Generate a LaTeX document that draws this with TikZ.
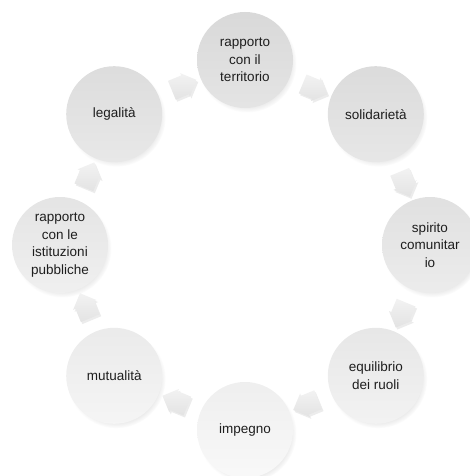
\documentclass[tikz,border=0pt]{standalone}
\usepackage{fontspec}
\setmainfont{Liberation Sans}
\usetikzlibrary{shapes.arrows,shadows,fadings,calc}
\definecolor{ringtext}{HTML}{1E1E1E}
\begin{document}
\begin{tikzpicture}[x=1pt,y=1pt,
  ring/.style={circle, minimum size=96pt, inner sep=0pt, align=center, text=ringtext,
    font=\fontsize{13.5}{17.5}\selectfont,
    circular drop shadow={shadow xshift=2pt, shadow yshift=-3pt, shadow scale=1.03, opacity=0.2}},
  flow/.style={single arrow, single arrow head extend=2.5pt, minimum height=27pt,
    text height=10pt, text depth=10pt, text width=0pt, inner sep=0pt,
    top color=gray!10, bottom color=gray!22,
    drop shadow={shadow xshift=1.5pt, shadow yshift=-2pt, opacity=0.15}}]
\useasboundingbox (-245,-231) rectangle (225,245);
% circles, clockwise from the top
\node[ring, top color=gray!30, bottom color=gray!21] (c0) at (0,185) {rapporto\\con il\\territorio};
\node[ring, top color=gray!28, bottom color=gray!19] (c1) at (130.8,130.8) {solidariet\`a};
\node[ring, top color=gray!24, bottom color=gray!15] (c2) at (185,0) {spirito\\comunitar\\io};
\node[ring, top color=gray!19, bottom color=gray!10] (c3) at (130.8,-130.8) {equilibrio\\dei ruoli};
\node[ring, top color=gray!13, bottom color=gray!5] (c4) at (0,-185) {impegno};
\node[ring, top color=gray!16, bottom color=gray!8] (c5) at (-130.8,-130.8) {mutualit\`a};
\node[ring, top color=gray!21, bottom color=gray!12] (c6) at (-185,0) {rapporto\\con le\\istituzioni\\pubbliche};
\node[ring, top color=gray!27, bottom color=gray!18] (c7) at (-130.8,130.8) {legalit\`a};
% arrows between the circles
\node[flow, rotate=-22.5] (a01) at ($(c0)!0.5!(c1)$) {};
\node[flow, rotate=-67.5] (a12) at ($(c1)!0.5!(c2)$) {};
\node[flow, rotate=-112.5] (a23) at ($(c2)!0.5!(c3)$) {};
\node[flow, rotate=-157.5] (a34) at ($(c3)!0.5!(c4)$) {};
\node[flow, rotate=157.5] (a45) at ($(c4)!0.5!(c5)$) {};
\node[flow, rotate=112.5] (a56) at ($(c5)!0.5!(c6)$) {};
\node[flow, rotate=67.5] (a67) at ($(c6)!0.5!(c7)$) {};
\node[flow, rotate=22.5] (a70) at ($(c7)!0.5!(c0)$) {};
\end{tikzpicture}
\end{document}
